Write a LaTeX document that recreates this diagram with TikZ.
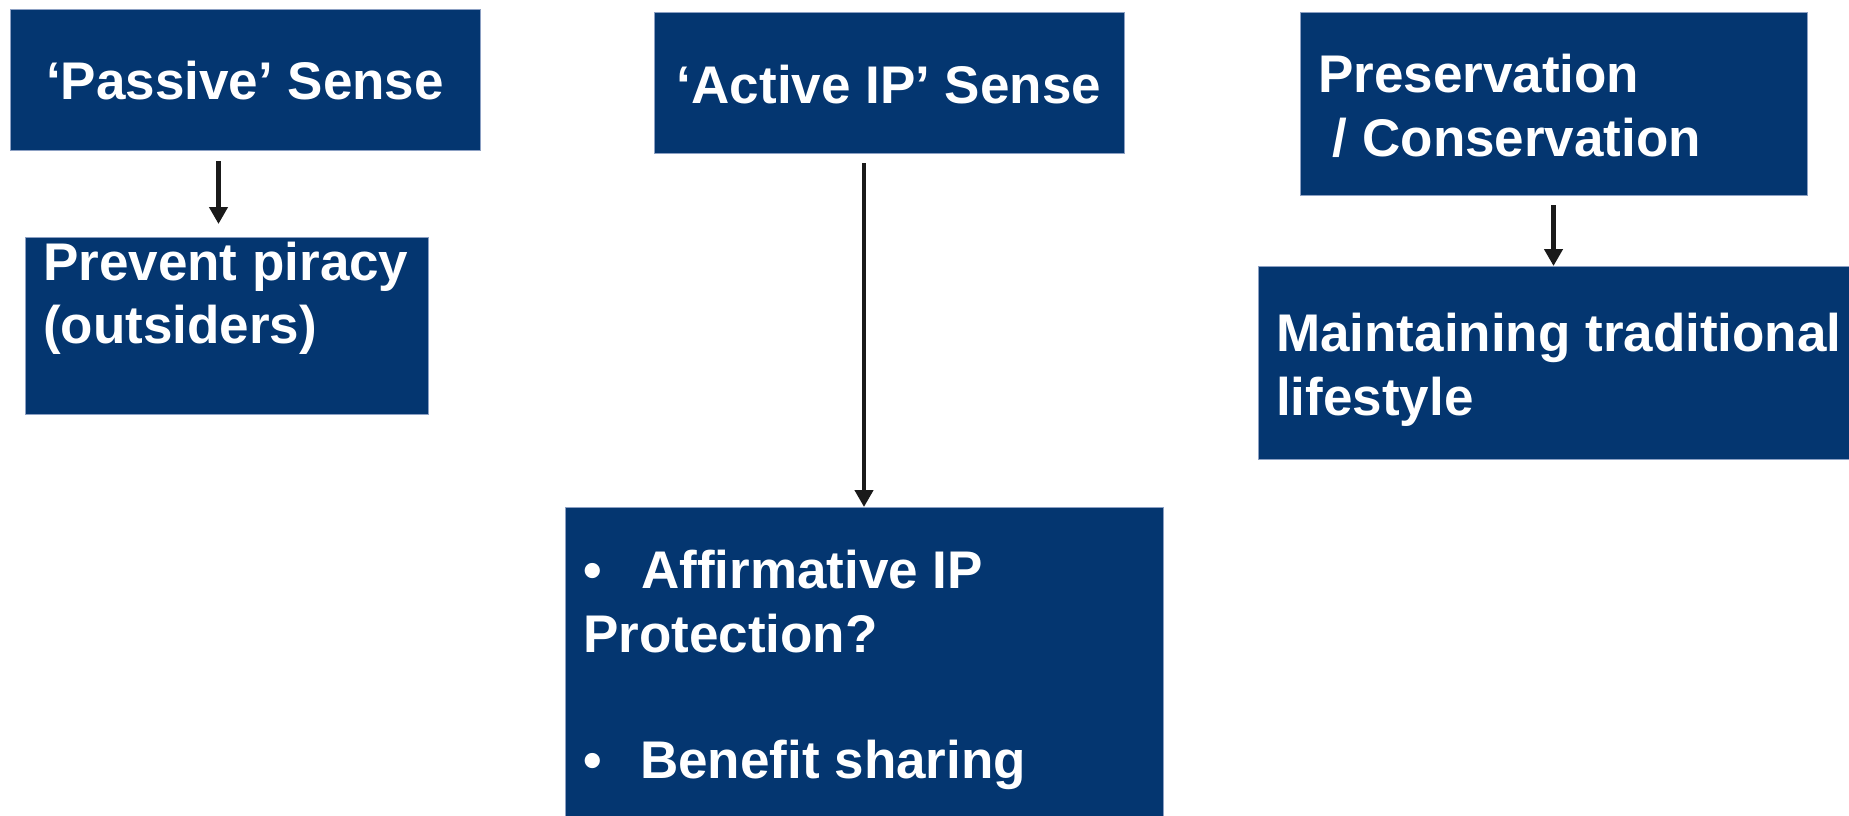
\documentclass[tikz,border=0pt]{standalone}
\usepackage{fontspec}
\setmainfont{Liberation Sans}
\usetikzlibrary{arrows.meta,calc}
\definecolor{boxblue}{RGB}{4,54,112}
\definecolor{boxedge}{RGB}{140,160,195}
\definecolor{arrowdark}{RGB}{26,26,26}
\begin{document}
\begin{tikzpicture}[x=1pt,y=-1pt,
  box/.style={draw=boxedge, line width=1pt, fill=boxblue, rectangle, inner sep=0pt, outer sep=0pt, anchor=north west},
  lbl/.style={text=white, font=\fontsize{53}{64}\selectfont\bfseries, inner sep=0pt},
  arr/.style={draw=arrowdark, line width=4.5pt, -{Triangle[length=17pt,width=18pt]}}]
\useasboundingbox (0,0) rectangle (1849,815);
% boxes
\node[box, minimum width=470pt, minimum height=141pt] (b1) at (10,9) {};
\node[box, minimum width=403pt, minimum height=177pt] (b2) at (25,237) {};
\node[box, minimum width=470pt, minimum height=141pt] (b3) at (654,12) {};
\node[box, minimum width=507pt, minimum height=183pt] (b4) at (1300,12) {};
\node[box, minimum width=600pt, minimum height=193pt] (b5) at (1258,266) {};
\node[box, minimum width=598pt, minimum height=320pt] (b6) at (565,507) {};
% texts
\node[lbl, anchor=base] (t1) at (245,99) {‘Passive’ Sense};
\node[lbl, anchor=base west] (t2a) at (43,280) {Prevent piracy};
\node[lbl, anchor=base west] (t2b) at (43,343) {(outsiders)};
\node[lbl, anchor=base] (t3) at (889,103) {‘Active IP’ Sense};
\node[lbl, anchor=base west] (t4a) at (1318,92) {Preservation};
\node[lbl, anchor=base west] (t4b) at (1318,156) {\ / Conservation};
\node[lbl, anchor=base west] (t5a) at (1276,351) {Maintaining traditional};
\node[lbl, anchor=base west] (t5b) at (1276,415) {lifestyle};
\node[lbl, anchor=base west] (t6a) at (583,588) {\makebox[58pt][l]{•}Affirmative IP};
\node[lbl, anchor=base west] (t6b) at (583,652) {Protection?};
\node[lbl, anchor=base west] (t6c) at (583,778) {\makebox[57pt][l]{•}Benefit sharing};
% arrows
\draw[arr] ($(b2.north |- b1.south)+(-8,11)$) -- ($(b2.north)+(-8,-13)$);
\draw[arr] ($(b6.north |- b3.south)+(0,10)$) -- (b6.north);
\draw[arr] ($(b4.south)+(0,10)$) -- (b4.south |- b5.north);
\end{tikzpicture}
\end{document}
